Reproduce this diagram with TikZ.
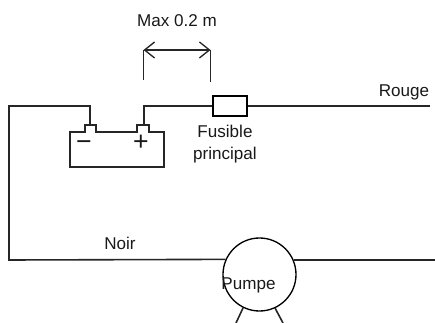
\documentclass[tikz,border=0pt]{standalone}
\usepackage{fontspec}
\setmainfont{Liberation Sans}
\usetikzlibrary{arrows.meta}
\tikzset{
    wire/.style={line width=1.2pt, black!85},
    label/.style={font=\fontsize{12.8}{14}\selectfont, text=black!90, inner sep=0pt},
    sign/.style={font=\fontsize{20}{20}\selectfont, text=black!90, inner sep=0pt},
    fuse/.style={draw, line width=1pt, minimum width=25.5pt, minimum height=15pt, inner sep=0pt},
    pump/.style={draw, circle, line width=1pt, minimum size=54.75pt, inner sep=0pt},
    dim/.style={line width=1pt, black!85},
}
\begin{document}
\begin{tikzpicture}[x=0.75pt, y=-0.75pt]
            \useasboundingbox (0,0) rectangle (435,323);
            % fuse and pump
            \node[fuse] (fuse) at (230,106) {};
            \node[pump] (pump) at (259.5,274.5) {};
            \node[label] (pumpe) at (248.5,285) {Pumpe};
            % corners of the wires
            \coordinate (negterm) at (90,125);
            \coordinate (posterm) at (144,125);
            \coordinate (negtop) at (90,106);
            \coordinate (postop) at (144,106);
            \coordinate (lefttop) at (9,106);
            \coordinate (leftbot) at (9,260);
            \coordinate (redend) at (430,106);
            \coordinate (blackend) at (435,260);
            % wires
            \draw[wire] (negterm) -- (negtop) -- (lefttop) -- (leftbot) -- (pump.156.6);
            \draw[wire] (posterm) -- (postop) -- (fuse.west);
            \draw[wire] (fuse.east) -- (redend);
            \draw[wire] (pump.23.4) -- (blackend);
            % battery
            \draw[wire] (70,132) -- (85,132) -- (85,125) -- (96,125) -- (96,132)
                -- (137,132) -- (137,125) -- (149,125) -- (149,132) -- (164,132)
                -- (164,167) -- (70,167) -- cycle;
            \node[sign] (minus) at (84,146) {−};
            \node[sign] (plus) at (141,143) {+};
            % pump legs
            \draw[wire] (243,308) -- (236,323);
            \draw[wire] (275,308) -- (283,323);
            % distance
            \coordinate (dimleft) at (143.5,50);
            \coordinate (dimright) at (210.5,50);
            \draw[dim] (dimleft) -- (143.5,80);
            \draw[dim] (dimright) -- (210.5,82);
            \draw[dim, {Straight Barb[length=7.5pt,width=12pt]}-{Straight Barb[length=7.5pt,width=12pt]}] (dimleft) -- (dimright);
            % texts
            \node[label] (maxtext) at (177,21) {Max 0.2 m};
            \node[label] (fusible) at (225,131) {Fusible};
            \node[label] (principal) at (225,155) {principal};
            \node[label] (noir) at (120,243) {Noir};
            \node[label] (rouge) at (404,92) {Rouge};
        \end{tikzpicture}
\end{document}
